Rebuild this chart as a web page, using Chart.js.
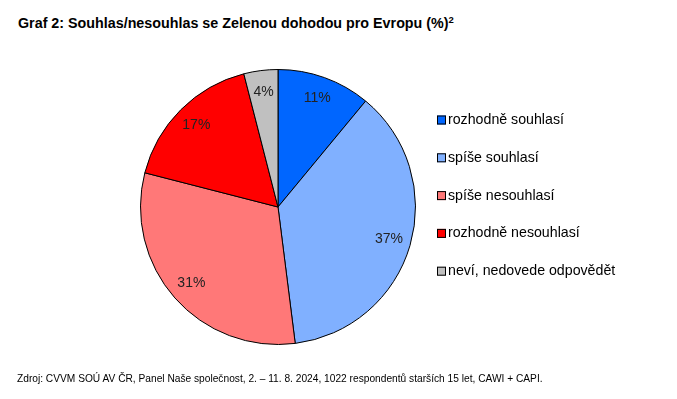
<!DOCTYPE html>
<html lang="cs">
<head>
<meta charset="utf-8">
<script src="https://cdn.jsdelivr.net/npm/chart.js@4.4.1/dist/chart.umd.min.js"></script>
<style>
  html, body { margin: 0; padding: 0; background: #fff; }
  body { width: 677px; height: 399px; position: relative; overflow: hidden;
         font-family: "Liberation Sans", Arial, sans-serif; color: #000; }
  .title { position: absolute; left: 18px; top: 14px; font-size: 14.3px; font-weight: bold; white-space: nowrap; line-height: 18px; }
  .title sup { font-size: 9.5px; vertical-align: 5px; line-height: 0; }
  .source { position: absolute; left: 17px; top: 373px; font-size: 10.2px; white-space: nowrap; }
  #wrap { position: absolute; left: 0; top: 0; width: 677px; height: 399px; }
</style>
</head>
<body>
<div class="title">Graf 2: Souhlas/nesouhlas se Zelenou dohodou pro Evropu (%)<sup>2</sup></div>
<div id="wrap"><canvas id="pieChart"></canvas></div>
<div class="source">Zdroj: CVVM SOÚ AV ČR, Panel Naše společnost, 2. – 11. 8. 2024, 1022 respondentů starších 15 let, CAWI + CAPI.</div>

<script>
// data
const categories = [
  "rozhodně souhlasí",
  "spíše souhlasí",
  "spíše nesouhlasí",
  "rozhodně nesouhlasí",
  "neví, nedovede odpovědět"
];
const shares = [11, 37, 31, 17, 4];
const sliceColors = ["#0066FF", "#80B0FF", "#FF7878", "#FF0000", "#C0C0C0"];

// percent labels inside slices
const sliceLabels = {
  id: "sliceLabels",
  afterDatasetsDraw(chart) {
    const ctx = chart.ctx;
    const meta = chart.getDatasetMeta(0);
    ctx.save();
    ctx.font = "14px 'Liberation Sans', Arial, sans-serif";
    ctx.fillStyle = "#222";
    ctx.textAlign = "center";
    ctx.textBaseline = "middle";
    meta.data.forEach((arc, i) => {
      const p = arc.getProps(["x", "y", "startAngle", "endAngle", "outerRadius"], true);
      const mid = (p.startAngle + p.endAngle) / 2;
      const r = p.outerRadius * 0.84;
      ctx.fillText(shares[i] + "%", p.x + Math.cos(mid) * r, p.y + Math.sin(mid) * r);
    });
    ctx.restore();
  }
};

// legend on the right, drawn on the canvas
const sideLegend = {
  id: "sideLegend",
  afterDraw(chart) {
    const ctx = chart.ctx;
    const x0 = 437, y0 = 120, step = 37.8;
    ctx.save();
    ctx.font = "14.2px 'Liberation Sans', Arial, sans-serif";
    ctx.textBaseline = "middle";
    ctx.textAlign = "left";
    categories.forEach((name, i) => {
      const y = y0 + i * step;
      ctx.fillStyle = sliceColors[i];
      ctx.fillRect(x0, y - 4.5, 9, 9);
      ctx.strokeStyle = "#000";
      ctx.lineWidth = 1;
      ctx.strokeRect(x0 + 0.5, y - 4.5 + 0.5, 8, 8);
      ctx.fillStyle = "#000";
      ctx.fillText(name, x0 + 11, y);
    });
    ctx.restore();
  }
};

new Chart(document.getElementById("pieChart"), {
  type: "pie",
  data: {
    labels: categories,
    datasets: [{
      data: shares,
      backgroundColor: sliceColors,
      borderColor: "#000",
      borderWidth: 1,
      hoverOffset: 0,
      offset: 0
    }]
  },
  options: {
    responsive: true,
    maintainAspectRatio: false,
    animation: false,
    layout: { padding: { left: 140, right: 261, top: 69, bottom: 54 } },
    plugins: {
      legend: { display: false },
      tooltip: { enabled: false },
      title: { display: false }
    }
  },
  plugins: [sliceLabels, sideLegend]
});
</script>
</body>
</html>
